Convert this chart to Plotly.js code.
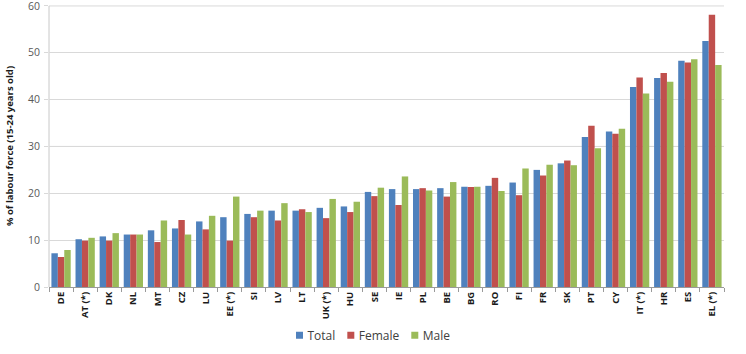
<!DOCTYPE html>
<html>
<head>
<meta charset="utf-8">
<script src="https://cdn.plot.ly/plotly-3.0.1.min.js"></script>
<style>html,body{margin:0;padding:0;background:#fff}#chart{width:746px;height:354px}</style>
</head>
<body>
<div id="chart"></div>
<script>
const countries = ["DE","AT (*)","DK","NL","MT","CZ","LU","EE (*)","SI","LV","LT","UK (*)","HU","SE","IE","PL","BE","BG","RO","FI","FR","SK","PT","CY","IT (*)","HR","ES","EL (*)"];
const totalVals  = [7.2,10.2,10.8,11.2,12.1,12.5,14.0,14.9,15.6,16.3,16.3,16.9,17.2,20.3,20.9,20.9,21.1,21.4,21.6,22.3,25.0,26.4,32.0,33.2,42.7,44.6,48.3,52.5];
const femaleVals = [6.4,9.9,9.9,11.2,9.6,14.3,12.3,9.9,14.9,14.2,16.6,14.7,16.0,19.4,17.5,21.1,19.3,21.35,23.3,19.6,23.8,27.0,34.4,32.7,44.7,45.7,47.9,58.1];
const maleVals   = [7.9,10.5,11.5,11.2,14.2,11.2,15.2,19.3,16.3,17.9,16.0,18.8,18.2,21.2,23.6,20.6,22.4,21.4,20.5,25.3,26.1,26.0,29.6,33.8,41.3,43.8,48.6,47.4];
const seriesNames = ["Total","Female","Male"];
const yTicks = [0,10,20,30,40,50,60];

const colors = ["#4F81BD","#C0504D","#9BBB59"];
const data = [totalVals, femaleVals, maleVals].map((v,i)=>({
  type:"bar", name:seriesNames[i], x:countries, y:v,
  marker:{color:colors[i]}, hoverinfo:"x+y+name"
}));

const layout = {
  width:746, height:354,
  margin:{l:49,r:22,t:5,b:66},
  paper_bgcolor:"#fff", plot_bgcolor:"#fff",
  barmode:"group", bargap:0.2, bargroupgap:0,
  font:{family:"Open Sans, Liberation Sans, sans-serif", color:"#404040"},
  xaxis:{
    type:"category", tickangle:-90, tickson:"boundaries", ticks:"outside", ticklen:4,
    tickcolor:"#9a9a9a", showline:true, linecolor:"#9a9a9a", linewidth:1,
    tickfont:{size:9.5, color:"#1a1a1a", family:"Open Sans, sans-serif", weight:"bold"},
    showgrid:false, automargin:false, fixedrange:true
  },
  yaxis:{
    range:[0,60.2], tickmode:"array", tickvals:yTicks, ticktext:yTicks.map(String),
    ticklabeloverflow:"allow", ticklabelstandoff:2,
    showline:false, zeroline:false,
    gridcolor:"#d9d9d9", gridwidth:1,
    ticks:"outside", ticklen:4, tickcolor:"#d9d9d9",
    tickfont:{size:10.5, color:"#595959"}, automargin:false,
    title:{text:"% of labour force (15-24 years old)", font:{size:9.5, color:"#1a1a1a", weight:"bold"}, standoff:12},
    fixedrange:true
  },
  shapes:[
    {type:"line", xref:"paper", x0:0, x1:1, yref:"y", y0:30, y1:30, line:{color:"#9a9a9a", width:1}, layer:"below"},
    {type:"line", xref:"paper", x0:0, x1:1, yref:"y", y0:60, y1:60, line:{color:"#d9d9d9", width:1}, layer:"below"},
    {type:"line", xref:"paper", x0:0, x1:0, yref:"y", y0:0, y1:60, line:{color:"#c8c8c8", width:1}, layer:"below"}
  ],
  legend:{orientation:"h", x:0.5, xanchor:"center", y:-0.167, yanchor:"middle",
    font:{size:12, color:"#404040"}, traceorder:"normal", tracegroupgap:0},
  showlegend:true
};
Plotly.newPlot("chart", data, layout, {displayModeBar:false, staticPlot:true}).then(gd=>{
  const items = [...gd.querySelectorAll('.legend .traces')];
  let cum = 0;
  items.forEach(tr=>{
    const p = tr.querySelector('.legendpoints path');
    if (p) p.setAttribute('d','M3.5,3.5H-3.5V-3.5H3.5Z');
    const t = tr.querySelector('.legendtext');
    if (t) t.setAttribute('x', 28);
    const w = t ? t.getComputedTextLength() : 30;
    const m = /translate\(([-\d.]+)[ ,]+([-\d.]+)\)/.exec(tr.getAttribute('transform')||'translate(0,0)');
    const ty = m ? m[2] : 0;
    tr.setAttribute('transform', `translate(${cum},${ty})`);
    cum += w + 23.5;
  });
  const first = items[0] && items[0].querySelector('.legendpoints path');
  if (first) {
    const left = first.getBoundingClientRect().left;
    const delta = 296 - left;
    items.forEach(tr=>{
      const m = /translate\(([-\d.]+)[ ,]+([-\d.]+)\)/.exec(tr.getAttribute('transform'));
      tr.setAttribute('transform', `translate(${parseFloat(m[1])+delta},${m[2]})`);
    });
  }
});
</script>
</body>
</html>
